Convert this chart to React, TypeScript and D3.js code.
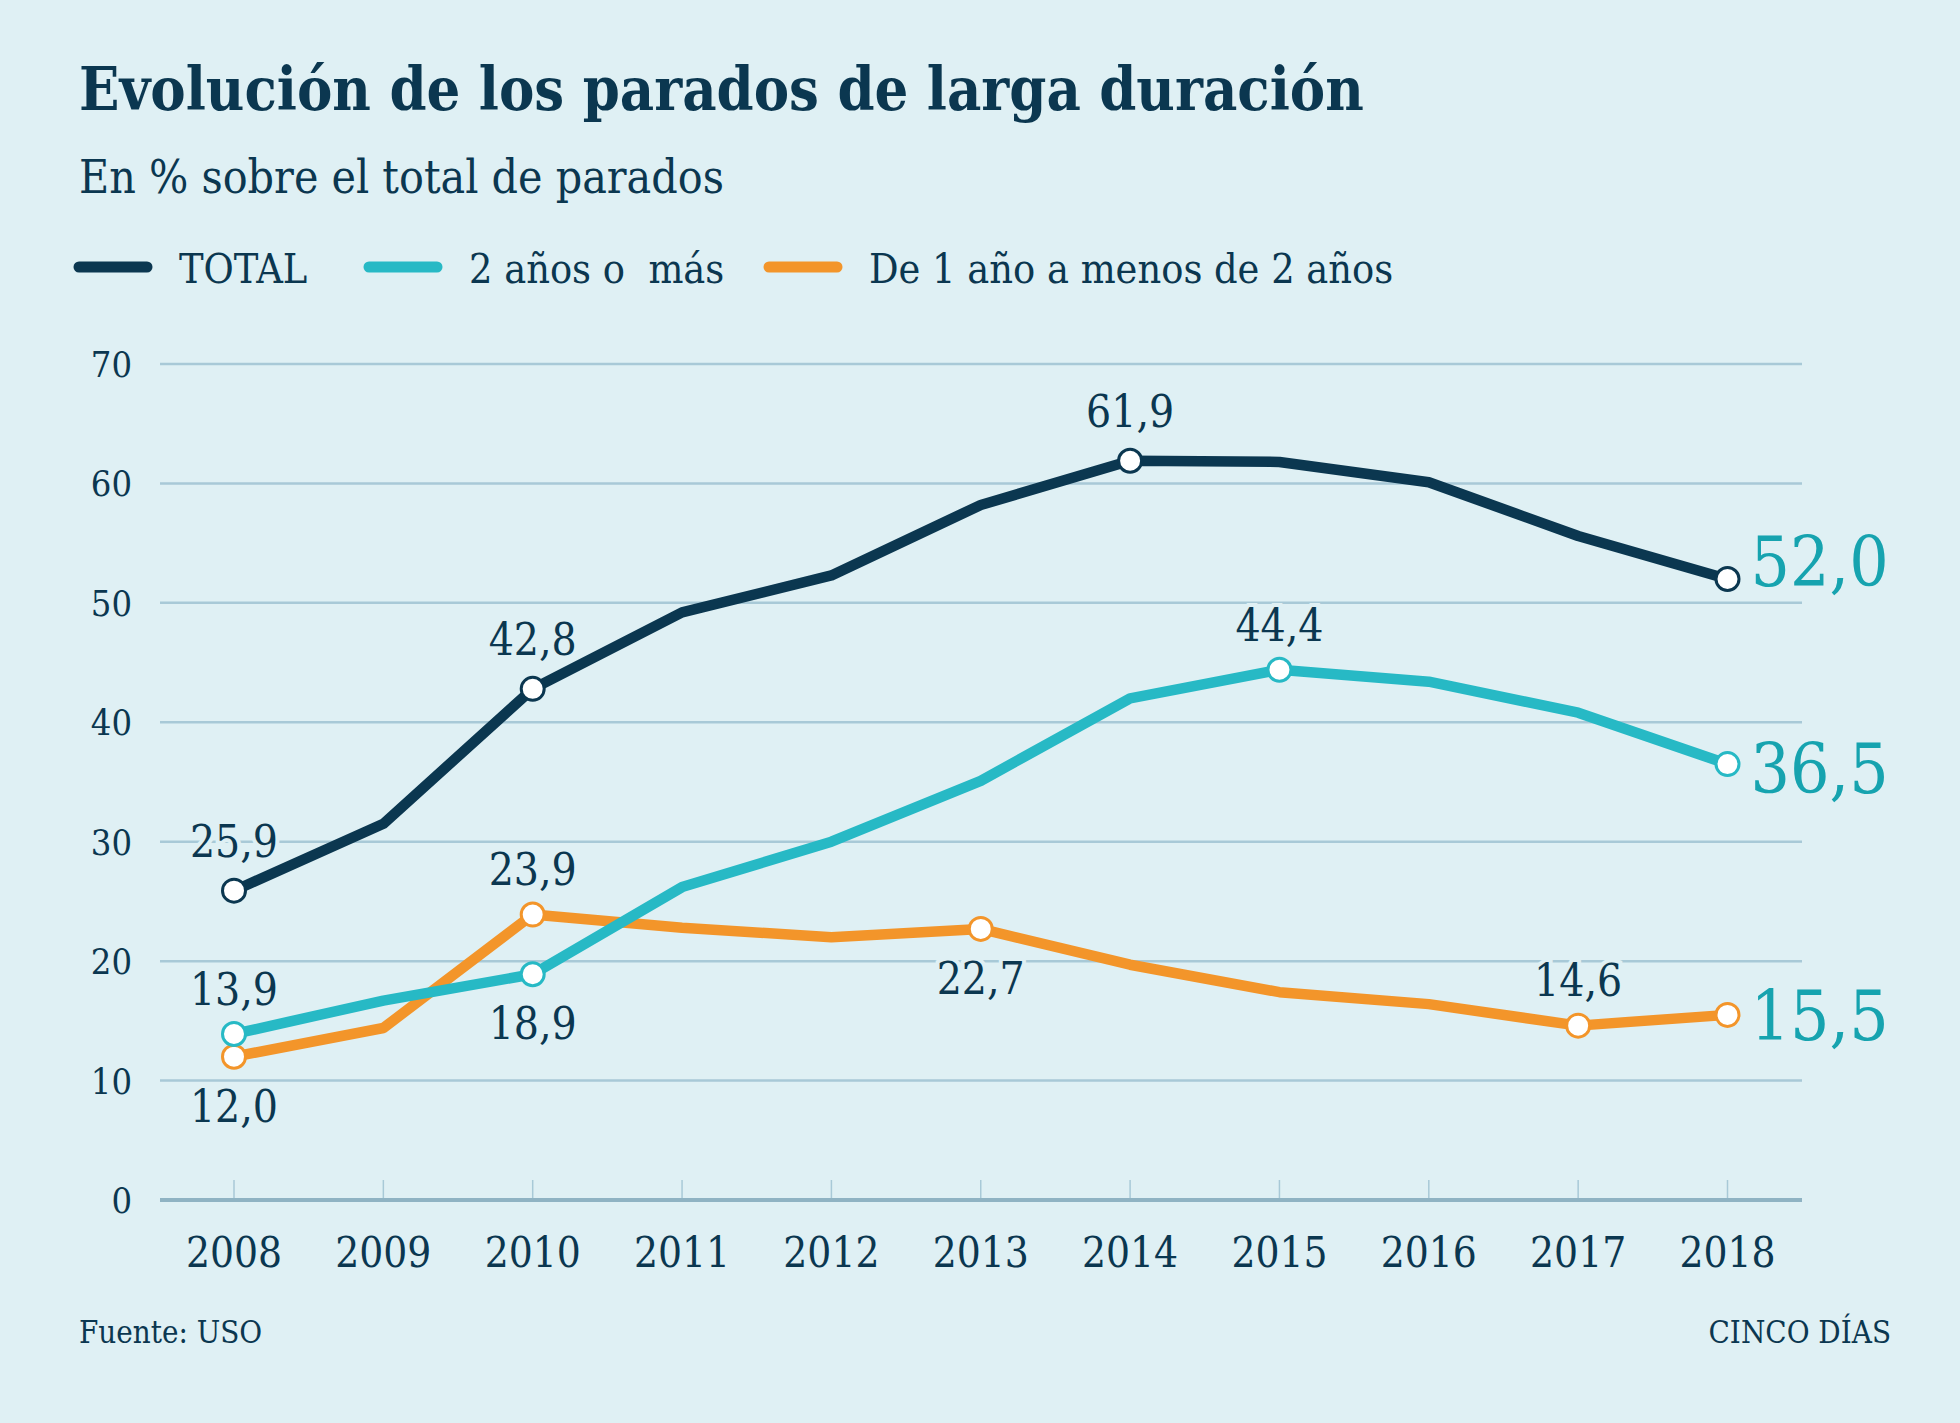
import React from "react"
import * as d3 from "d3"

// Datos (en % sobre el total de parados)
const years = [2008, 2009, 2010, 2011, 2012, 2013, 2014, 2015, 2016, 2017, 2018]
const totalValues = [25.9, 31.5, 42.8, 49.2, 52.3, 58.2, 61.9, 61.8, 60.1, 55.6, 52.0]
const longValues = [13.9, 16.7, 18.9, 26.2, 30.0, 35.1, 42.0, 44.4, 43.4, 40.8, 36.5]
const shortValues = [12.0, 14.4, 23.9, 22.8, 22.0, 22.7, 19.7, 17.4, 16.4, 14.6, 15.5]
const yTicks = [0, 10, 20, 30, 40, 50, 60, 70]

const seriesNames = ["TOTAL", "2 años o\u00a0 más", "De 1 año a menos de 2 años"]

// years with a circle marker per series
const totalMarked = [2008, 2010, 2014, 2018]
const longMarked = [2008, 2010, 2015, 2018]
const shortMarked = [2008, 2010, 2013, 2017, 2018]

// value labels: series index, year, side of the point
const pointLabels = [
  { s: 0, year: 2008, side: "above" },
  { s: 0, year: 2010, side: "above" },
  { s: 0, year: 2014, side: "above" },
  { s: 1, year: 2008, side: "above" },
  { s: 1, year: 2010, side: "below" },
  { s: 1, year: 2015, side: "above" },
  { s: 2, year: 2008, side: "below" },
  { s: 2, year: 2010, side: "above" },
  { s: 2, year: 2013, side: "below" },
  { s: 2, year: 2017, side: "above" },
]

const W = 1960
const H = 1423
const BG = "#dff0f4"
const DARK = "#0b3750"
const TEAL = "#27b9c5"
const ORANGE = "#f3952a"
const BIG = "#16a3af"
const GRID = "#a8c9d7"
const FONT = "'DejaVu Serif Condensed', 'DejaVu Serif', serif"

const fmt = (v: number) => v.toFixed(1).replace(".", ",")

export default function App() {
  const x = d3.scalePoint<number>().domain(years).range([234, 1727.5])
  const y = d3.scaleLinear().domain([0, 70]).range([1200, 364])

  const series = [
    { values: totalValues, color: DARK, marked: totalMarked },
    { values: longValues, color: TEAL, marked: longMarked },
    { values: shortValues, color: ORANGE, marked: shortMarked },
  ]

  const line = d3
    .line<number>()
    .x((_, i) => x(years[i]) as number)
    .y((d) => y(d))

  const drawOrder = [2, 1, 0]
  const endOffsets = [-18, 4, 0]
  // the dark line climbs steeply, its labels sit a bit higher
  const aboveGap = [-50, -45, -45]

  return (
    <svg
      width={W}
      height={H}
      viewBox={`0 0 ${W} ${H}`}
      style={{ position: "absolute", left: 0, top: 0, background: BG }}
      fontFamily={FONT}
    >
      <rect width={W} height={H} fill={BG} />

      <text x={79} y={110} fontSize={59} fontWeight="bold" fill={DARK}>
        Evolución de los parados de larga duración
      </text>
      <text x={79} y={193} fontSize={46} fill={DARK}>
        En % sobre el total de parados
      </text>

      {/* legend */}
      {seriesNames.map((name, i) => {
        const lx = [79, 369, 769][i]
        return (
          <g key={name}>
            <line
              x1={lx}
              x2={lx + 68}
              y1={267}
              y2={267}
              stroke={series[i].color}
              strokeWidth={11}
              strokeLinecap="round"
            />
            <text x={lx + 100} y={283} fontSize={41} fill={DARK}>
              {name}
            </text>
          </g>
        )
      })}

      {/* grid */}
      {yTicks.map((t) => (
        <g key={t}>
          {t > 0 && (
            <line x1={160} x2={1802} y1={y(t)} y2={y(t)} stroke={GRID} strokeWidth={2.5} />
          )}
          <text
            x={132}
            y={y(t)}
            dy="0.36em"
            textAnchor="end"
            fontSize={36}
            fill={DARK}
          >
            {t}
          </text>
        </g>
      ))}

      {/* x axis */}
      {years.map((yr) => (
        <g key={yr}>
          <line x1={x(yr)} x2={x(yr)} y1={1180} y2={1200} stroke={GRID} strokeWidth={1.5} />
          <text x={x(yr)} y={1267} textAnchor="middle" fontSize={42} fill={DARK}>
            {yr}
          </text>
        </g>
      ))}
      <line x1={160} x2={1802} y1={1200} y2={1200} stroke="#8fb3c3" strokeWidth={4} />

      {/* lines */}
      {drawOrder.map((si) => (
        <path
          key={si}
          d={line(series[si].values) || ""}
          fill="none"
          stroke={series[si].color}
          strokeWidth={10.5}
          strokeLinejoin="round"
          strokeLinecap="round"
        />
      ))}

      {/* markers */}
      {drawOrder.map((si) =>
        series[si].marked.map((yr) => {
          const v = series[si].values[years.indexOf(yr)]
          return (
            <circle
              key={`${si}-${yr}`}
              cx={x(yr)}
              cy={y(v)}
              r={11.5}
              fill="#ffffff"
              stroke={series[si].color}
              strokeWidth={3}
            />
          )
        })
      )}

      {/* value labels */}
      {pointLabels.map((l) => {
        const v = series[l.s].values[years.indexOf(l.year)]
        const cy = y(v) + (l.side === "above" ? aboveGap[l.s] : 49)
        return (
          <text
            key={`${l.s}-${l.year}`}
            x={x(l.year)}
            y={cy}
            dy="0.36em"
            textAnchor="middle"
            fontSize={44}
            fill={DARK}
            stroke={BG}
            strokeWidth={8}
            paintOrder="stroke"
          >
            {fmt(v)}
          </text>
        )
      })}

      {/* end labels */}
      {series.map((s, i) => {
        const v = s.values[s.values.length - 1]
        return (
          <text
            key={i}
            x={(x(2018) as number) + 23}
            y={y(v) + endOffsets[i]}
            dy="0.36em"
            fontSize={69}
            fill={BIG}
          >
            {fmt(v)}
          </text>
        )
      })}

      <text x={79} y={1343} fontSize={31} fill={DARK}>
        Fuente: USO
      </text>
      <text x={1891} y={1343} fontSize={31} textAnchor="end" fill={DARK}>
        CINCO DÍAS
      </text>
    </svg>
  )
}
